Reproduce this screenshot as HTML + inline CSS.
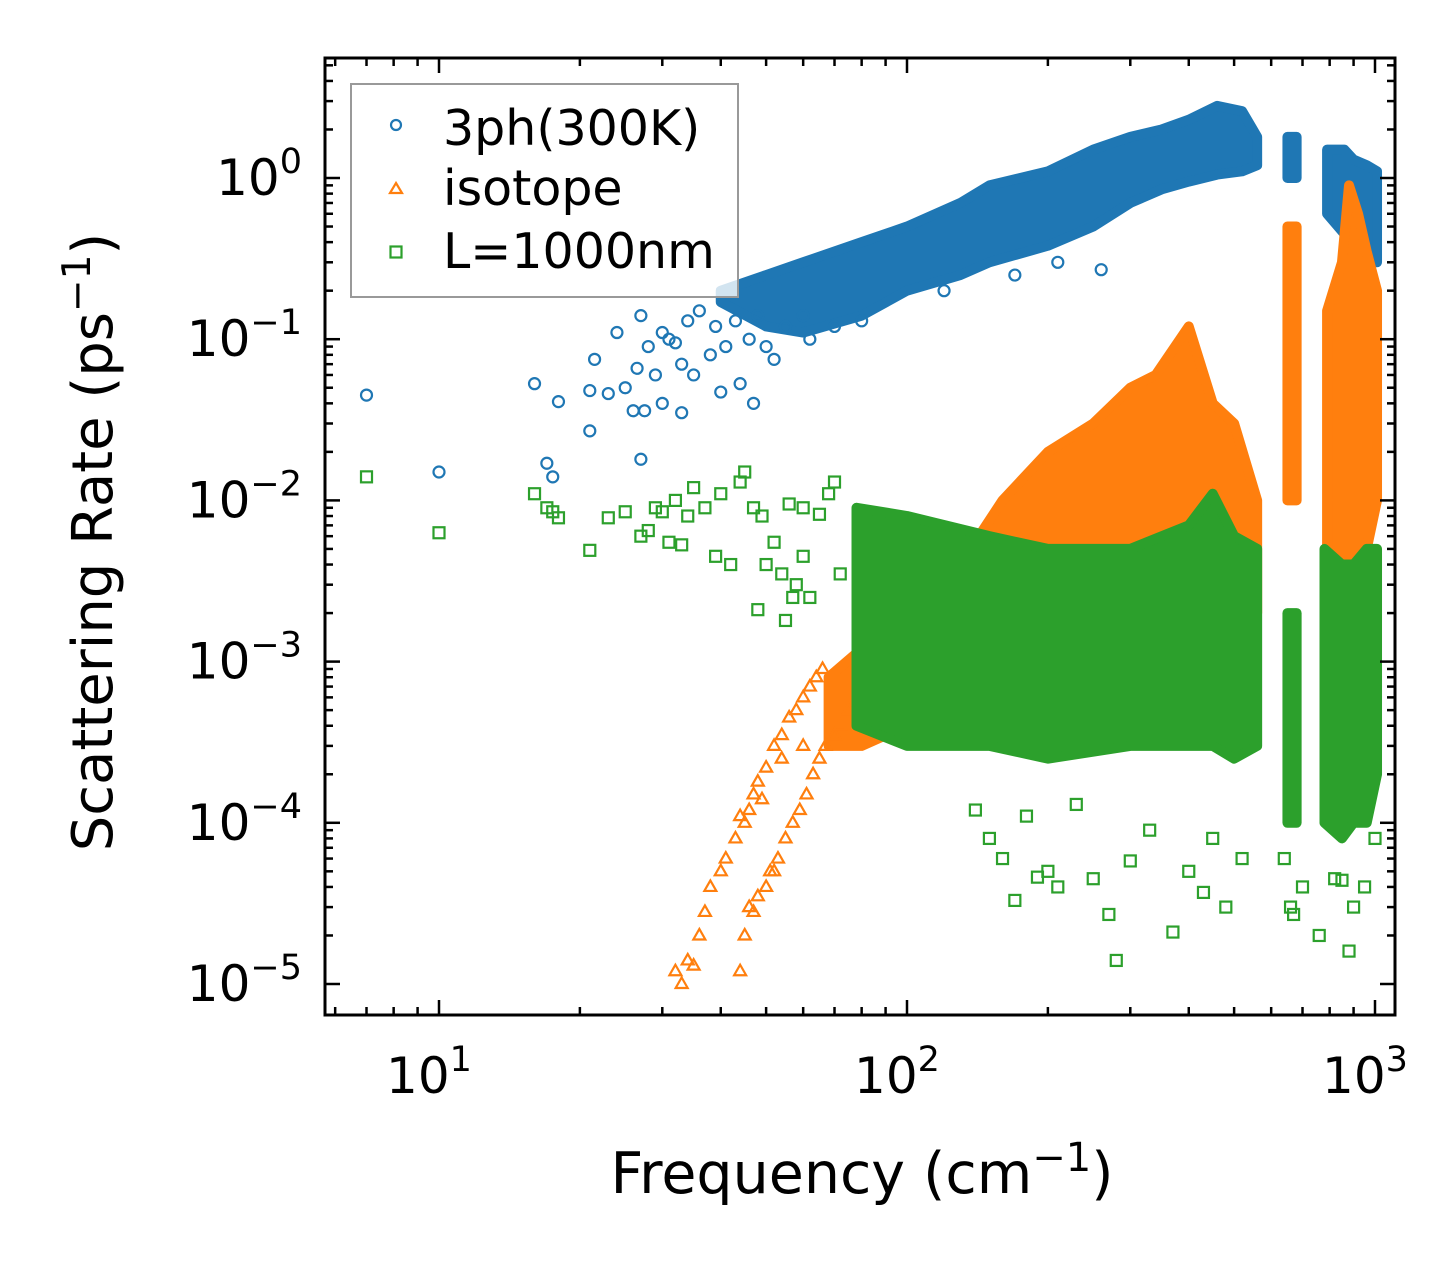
<!DOCTYPE html>
<html><head><meta charset="utf-8">
<style>
html,body{margin:0;padding:0;background:#fff;}
svg{display:block;font-family:"DejaVu Sans","Liberation Sans",sans-serif;}
</style></head>
<body>
<svg id="chart" width="1455" height="1265" viewBox="0 0 1455 1265" xmlns="http://www.w3.org/2000/svg">
<g id="marks"></g>
<g id="axes"></g>
<text x="862" y="1193" font-size="57" text-anchor="middle">Frequency (cm<tspan font-size="40" dy="-22">−1</tspan><tspan dy="22">)</tspan></text>
<text transform="translate(112,542) rotate(-90)" font-size="56" text-anchor="middle">Scattering Rate (ps<tspan font-size="39" dy="-22">−1</tspan><tspan dy="22">)</tspan></text>
<g>
<rect x="351" y="84" width="387" height="213" fill="#fff" fill-opacity="0.8" stroke="#999" stroke-width="2"/>
<circle cx="396" cy="125" r="5" fill="none" stroke="#1f77b4" stroke-width="2.2"/>
<text x="443" y="145" font-size="49">3ph(300K)</text>
<path d="M396,183 L402,193 L390,193 Z" fill="none" stroke="#ff7f0e" stroke-width="2.2"/>
<text x="443" y="205" font-size="49">isotope</text>
<rect x="390.5" y="246.5" width="11" height="11" fill="none" stroke="#2ca02c" stroke-width="2.2"/>
<text x="443" y="268" font-size="49">L=1000nm</text>
</g>
</svg>
<script>
// ---- data ----
const xTicks = [10, 100, 1000];
const xTickLabels = ["10", "10", "10"];
const xTickExps = ["1", "2", "3"];
const yTicks = [1, 0.1, 0.01, 0.001, 0.0001, 0.00001];
const yTickExps = ["0", "−1", "−2", "−3", "−4", "−5"];

// dense band envelopes: [frequency, low, high]
const bandBlue = [[40,0.17,0.2],[50,0.12,0.25],[60,0.11,0.3],[80,0.14,0.4],[100,0.2,0.5],[130,0.25,0.7],[150,0.3,0.9],[200,0.38,1.1],[250,0.5,1.5],[300,0.7,1.8],[350,0.85,2.0],[400,0.95,2.3],[460,1.05,2.8],[520,1.1,2.6],[560,1.2,1.8]];
const bandBlue2 = [[650,1.0,1.8],[680,1.0,1.8]];
const bandBlue3 = [[790,0.6,1.5],[860,0.45,1.5],[900,0.3,1.3],[960,0.3,1.2],[1010,0.3,1.1]];
const bandOrange = [[68,0.0003,0.0008],[80,0.0003,0.0012],[100,0.0004,0.002],[130,0.0006,0.004],[160,0.001,0.01],[200,0.0015,0.02],[250,0.002,0.03],[300,0.0025,0.05],[340,0.003,0.06],[400,0.003,0.12],[450,0.002,0.04],[500,0.002,0.03],[560,0.002,0.01]];
const bandOrange2 = [[650,0.01,0.5],[680,0.01,0.5]];
const bandOrange3 = [[790,0.005,0.15],[850,0.003,0.3],[880,0.002,0.9],[920,0.003,0.6],[960,0.005,0.35],[1010,0.01,0.2]];
const bandGreen = [[78,0.0004,0.009],[100,0.0003,0.008],[150,0.0003,0.006],[200,0.00025,0.005],[300,0.0003,0.005],[400,0.0003,0.007],[450,0.0003,0.011],[500,0.00025,0.006],[560,0.0003,0.005]];
const bandGreen2 = [[650,0.0001,0.002],[680,0.0001,0.002]];
const bandGreen3 = [[780,0.0001,0.005],[850,0.00008,0.004],[900,0.0001,0.004],[960,0.0001,0.005],[1010,0.0002,0.005]];

const blueX = [7,10,16,17,17.5,18,21,21,21.5,23,24,25,26,26.5,27,27,27.5,28,29,30,30,31,32,33,33,34,35,36,38,39,40,41,43,44,46,47,48,50,52,55,60,62,70,80,120,170,210,260];
const blueY = [0.045,0.015,0.053,0.017,0.014,0.041,0.027,0.048,0.075,0.046,0.11,0.05,0.036,0.066,0.14,0.018,0.036,0.09,0.06,0.11,0.04,0.1,0.095,0.035,0.07,0.13,0.06,0.15,0.08,0.12,0.047,0.09,0.13,0.053,0.1,0.04,0.14,0.09,0.075,0.12,0.14,0.1,0.12,0.13,0.2,0.25,0.3,0.27];
const orangeX = [32,33,34,35,36,37,38,40,41,43,45,46,47,48,50,52,54,56,58,60,62,64,66,44,45,46,47,48,50,51,52,53,55,57,59,61,63,65,67,70,72,75,44,49,54,60];
const orangeY = [0.000012,0.00001,0.000014,0.000013,0.00002,0.000028,0.00004,0.00005,0.00006,0.00008,0.0001,0.00012,0.00015,0.00018,0.00022,0.0003,0.00035,0.00045,0.0005,0.0006,0.0007,0.0008,0.0009,0.000012,0.00002,0.00003,0.000028,0.000035,0.00004,0.00005,0.00005,0.00006,0.00008,0.0001,0.00012,0.00015,0.0002,0.00025,0.0003,0.00035,0.0004,0.0005,0.00011,0.00014,0.00025,0.0003];
const greenX = [7,10,16,17,17.5,18,21,23,25,27,28,29,30,31,32,33,34,35,37,39,40,42,44,45,47,49,50,52,54,56,58,60,62,65,68,70,72,55,57,48,60,140,150,160,170,180,190,200,210,230,250,270,280,300,330,370,400,430,450,480,520,660,670,820,850,880,900,950,1000,700,760,640];
const greenY = [0.014,0.0063,0.011,0.009,0.0085,0.0078,0.0049,0.0078,0.0085,0.006,0.0065,0.009,0.0085,0.0055,0.01,0.0053,0.008,0.012,0.009,0.0045,0.011,0.004,0.013,0.015,0.009,0.008,0.004,0.0055,0.0035,0.0095,0.003,0.009,0.0025,0.0082,0.011,0.013,0.0035,0.0018,0.0025,0.0021,0.0045,0.00012,0.00008,0.00006,0.000033,0.00011,0.000046,0.00005,0.00004,0.00013,0.000045,0.000027,0.000014,0.000058,0.00009,0.000021,0.00005,0.000037,0.00008,0.00003,0.00006,0.00003,0.000027,0.000045,0.000044,0.000016,0.00003,0.00004,0.00008,0.00004,0.00002,0.00006];

// ---- scales ----
const X0 = 907, XD = 468, Y0 = 178, YD = 161.2;
const L = 325, R = 1395, T = 58, B = 1015;
function xs(v){ return X0 + XD * Math.log10(v / 100); }
function ys(v){ return Y0 - YD * Math.log10(v); }
const NS = "http://www.w3.org/2000/svg";
const marks = document.getElementById("marks");
const axes = document.getElementById("axes");
function mk(tag, attrs, parent){ const e = document.createElementNS(NS, tag); for (const k in attrs) e.setAttribute(k, attrs[k]); parent.appendChild(e); return e; }

const colors = {blue:"#1f77b4", orange:"#ff7f0e", green:"#2ca02c"};
function band(data, color, name){
  const up = data.map(d => xs(d[0]) + "," + ys(d[2]));
  const lo = data.slice().reverse().map(d => xs(d[0]) + "," + ys(d[1]));
  const p = mk("polygon", {points: up.concat(lo).join(" "), fill: color, stroke: color, "stroke-width": 10, "stroke-linejoin": "round"}, marks);
  
  
}
function circle(x, y){
  const c = mk("circle", {cx: xs(x), cy: ys(y), r: 5.5, fill: "none", stroke: colors.blue, "stroke-width": 2.2}, marks);
  
  
}
function tri(x, y){
  const cx = xs(x), cy = ys(y);
  const t = mk("path", {d: `M${cx},${cy-6.5} L${cx+6},${cy+4} L${cx-6},${cy+4} Z`, fill: "none", stroke: colors.orange, "stroke-width": 2.2}, marks);
  
  
}
function sq(x, y){
  const s = mk("rect", {x: xs(x) - 5.5, y: ys(y) - 5.5, width: 11, height: 11, fill: "none", stroke: colors.green, "stroke-width": 2.2}, marks);
  
  
}

band(bandBlue, colors.blue, "band-3ph-main");
band(bandBlue2, colors.blue, "band-3ph-660");
band(bandBlue3, colors.blue, "band-3ph-900");
blueX.forEach((x, i) => circle(x, blueY[i]));
band(bandOrange, colors.orange, "band-isotope-main");
band(bandOrange2, colors.orange, "band-isotope-660");
band(bandOrange3, colors.orange, "band-isotope-900");
orangeX.forEach((x, i) => tri(x, orangeY[i]));
band(bandGreen, colors.green, "band-boundary-main");
band(bandGreen2, colors.green, "band-boundary-660");
band(bandGreen3, colors.green, "band-boundary-900");
greenX.forEach((x, i) => sq(x, greenY[i]));

// ---- axes ----
const frame = mk("rect", {x: L, y: T, width: R - L, height: B - T, fill: "none", stroke: "#000", "stroke-width": 3}, axes);


function tick(x1, y1, x2, y2){ const l = mk("line", {x1, y1, x2, y2, stroke: "#000", "stroke-width": 2.5}, axes);   }
for (let d = 1; d <= 1000; d *= 10){
  for (let m = 1; m <= 9; m++){
    const v = d * m; const x = xs(v);
    if (x < L || x > R) continue;
    const len = m === 1 ? 15 : 8;
    tick(x, B, x, B - len); tick(x, T, x, T + len);
  }
}
xTicks.forEach((v, i) => {
  const t = mk("text", {x: xs(v) - 10, y: 1093, "font-size": 50, "text-anchor": "middle"}, axes);
  
  
  t.textContent = xTickLabels[i];
  const s = mk("tspan", {"font-size": 35, dy: -22}, t); s.textContent = xTickExps[i];
});
for (let d = 0.00001; d <= 1.5; d *= 10){
  for (let m = 1; m <= 9; m++){
    const y = ys(d * m);
    if (y < T || y > B) continue;
    const len = m === 1 ? 15 : 8;
    tick(L, y, L + len, y); tick(R, y, R - len, y);
  }
}
yTicks.forEach((v, i) => {
  const t = mk("text", {x: 302, y: ys(v) + 17, "font-size": 50, "text-anchor": "end"}, axes);
  
  
  t.textContent = "10";
  const s = mk("tspan", {"font-size": 35, dy: -22}, t); s.textContent = yTickExps[i];
});
</script>
</body></html>
